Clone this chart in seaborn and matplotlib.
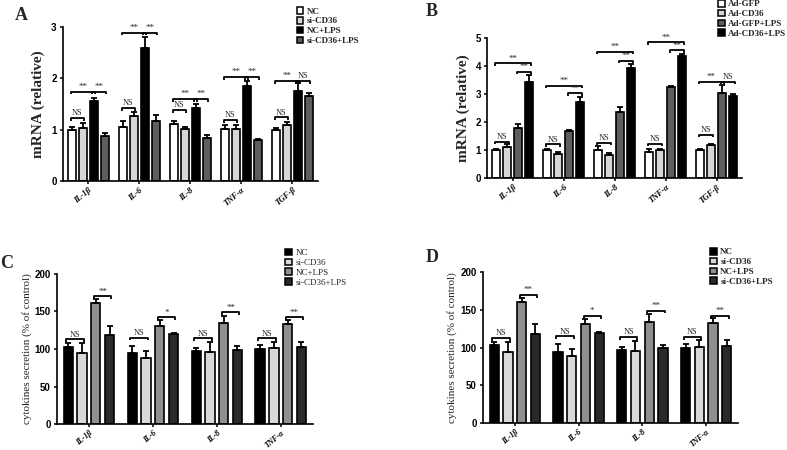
import matplotlib
matplotlib.use("Agg")
import matplotlib.pyplot as plt
import matplotlib.transforms as mtransforms
from matplotlib.patches import Patch
import pandas as pd
import seaborn as sns

# ---- data -------------------------------------------------------------
CYTO_AB = ["IL-1β", "IL-6", "IL-8", "TNF-α", "TGF-β"]
CYTO_CD = ["IL-1β", "IL-6", "IL-8", "TNF-α"]

GROUPS_A = ["NC", "si-CD36", "NC+LPS", "si-CD36+LPS"]
COLORS_A = ["#ffffff", "#d6d6d6", "#000000", "#5e5e5e"]
MEAN_A = [
    [1.00, 1.06, 1.11, 1.01, 1.00],
    [1.04, 1.27, 1.01, 1.01, 1.09],
    [1.55, 2.60, 1.43, 1.85, 1.76],
    [0.87, 1.17, 0.84, 0.79, 1.66],
]
ERR_A = [
    [0.06, 0.10, 0.06, 0.07, 0.03],
    [0.08, 0.07, 0.04, 0.07, 0.06],
    [0.07, 0.21, 0.06, 0.10, 0.14],
    [0.07, 0.12, 0.045, 0.03, 0.06],
]
# (cytokine index, first bar, last bar, height, label)
SIG_A = [
    (0, 0, 1, 1.23, "NS"), (0, 0, 2, 1.74, "**"), (0, 2, 3, 1.74, "**"),
    (1, 0, 1, 1.42, "NS"), (1, 0, 2, 2.89, "**"), (1, 2, 3, 2.89, "**"),
    (2, 0, 1, 1.38, "NS"), (2, 0, 2, 1.60, "**"), (2, 2, 3, 1.60, "**"),
    (3, 0, 1, 1.19, "NS"), (3, 0, 2, 2.03, "**"), (3, 2, 3, 2.03, "**"),
    (4, 0, 1, 1.24, "NS"), (4, 0, 2, 1.95, "**"), (4, 2, 3, 1.95, "NS"),
]

GROUPS_B = ["Ad-GFP", "Ad-CD36", "Ad-GFP+LPS", "Ad-CD36+LPS"]
COLORS_B = ["#ffffff", "#d6d6d6", "#5e5e5e", "#000000"]
MEAN_B = [
    [1.01, 1.01, 1.01, 0.92, 1.01],
    [1.10, 0.87, 0.83, 1.01, 1.17],
    [1.81, 1.67, 2.36, 3.25, 3.04],
    [3.43, 2.74, 3.93, 4.35, 2.92],
]
ERR_B = [
    [0.04, 0.03, 0.14, 0.12, 0.04],
    [0.13, 0.08, 0.06, 0.05, 0.06],
    [0.12, 0.04, 0.18, 0.05, 0.30],
    [0.24, 0.15, 0.14, 0.10, 0.08],
]
SIG_B = [
    (0, 0, 1, 1.31, "NS"), (0, 0, 3, 4.11, "**"), (0, 2, 3, 3.81, "**"),
    (1, 0, 1, 1.21, "NS"), (1, 0, 3, 3.30, "**"), (1, 2, 3, 3.04, "**"),
    (2, 0, 1, 1.27, "NS"), (2, 0, 3, 4.52, "**"), (2, 2, 3, 4.20, "**"),
    (3, 0, 1, 1.23, "NS"), (3, 0, 3, 4.86, "**"), (3, 2, 3, 4.58, "**"),
    (4, 0, 1, 1.55, "NS"), (4, 0, 2, 3.45, "**"), (4, 2, 3, 3.45, "NS"),
]

GROUPS_CD = ["NC", "si-CD36", "NC+LPS", "si-CD36+LPS"]
COLORS_CD = ["#000000", "#d9d9d9", "#8f8f8f", "#2a2a2a"]
MEAN_CD = [
    [103, 94.5, 96.7, 100],
    [94.5, 88.4, 95.4, 100.7],
    [160.4, 131, 134, 133],
    [118.7, 120, 99, 102],
]
ERR_CD = [
    [4.4, 9.7, 4.4, 5.0],
    [13, 9.2, 14, 9.0],
    [5.3, 7.5, 10, 5.7],
    [12.3, 1.0, 5.0, 7.5],
]
SIG_CD = [
    (0, 0, 1, 113, "NS"), (0, 2, 3, 170, "**"),
    (1, 0, 1, 115, "NS"), (1, 2, 3, 142, "*"),
    (2, 0, 1, 114, "NS"), (2, 2, 3, 149, "**"),
    (3, 0, 1, 114, "NS"), (3, 2, 3, 142, "**"),
]

SERIF = ["Liberation Serif", "DejaVu Serif"]
SANS = ["Liberation Sans", "DejaVu Sans"]


def long_table(cytos, groups, means):
    rows = []
    for g, vals in zip(groups, means):
        for c, v in zip(cytos, vals):
            rows.append({"cytokine": c, "group": g, "value": v})
    return pd.DataFrame(rows)


def draw_panel(ax, cytos, groups, colors, means, errs, sigs, ylim, yticks,
               ylabel, ylabel_bold, ylabel_size, ylabel_x, xlab_size):
    df = long_table(cytos, groups, means)
    sns.barplot(data=df, x="cytokine", y="value", hue="group",
                order=cytos, hue_order=groups, palette=colors,
                edgecolor="black", linewidth=1.2, width=0.86, gap=0.32,
                errorbar=None, legend=False, saturation=1, ax=ax)

    centers = []
    for cont, err in zip(ax.containers, errs):
        xs = [r.get_x() + r.get_width() / 2 for r in cont]
        hs = [r.get_height() for r in cont]
        centers.append(xs)
        ax.errorbar(xs, hs, yerr=[[0] * len(err), err], fmt="none",
                    ecolor="black", elinewidth=1.3, capsize=2.2,
                    capthick=1.3, zorder=1)
    hw = ax.containers[0][0].get_width() / 2

    span = ylim[1] - ylim[0]
    for ci, b1, b2, y, label in sigs:
        x1 = centers[b1][ci] - hw * 0.4
        x2 = centers[b2][ci] + hw * 0.4
        d = span * 0.018
        ax.plot([x1, x1, x2, x2], [y - d, y, y, y - d], color="black",
                lw=1.3, solid_capstyle="butt", clip_on=False)
        ax.text((x1 + x2) / 2, y + span * 0.004, label, ha="center",
                va="bottom", fontsize=6 if label == "NS" else 6.5,
                family=SERIF)

    ax.set_xlim(-0.5, len(cytos) - 0.5)
    ax.set_ylim(*ylim)
    ax.set_yticks(yticks)
    ax.set_yticklabels([str(t) for t in yticks], family=SANS,
                       fontweight="bold", fontsize=7)
    ax.set_xticks(range(len(cytos)))
    ax.set_xticklabels(cytos, rotation=40, ha="right",
                       rotation_mode="anchor", family=SERIF,
                       fontweight="bold", fontstyle="italic",
                       fontsize=xlab_size)
    shift = mtransforms.ScaledTranslation(4 / 100, 0, ax.figure.dpi_scale_trans)
    for lab in ax.get_xticklabels():
        lab.set_transform(lab.get_transform() + shift)
    ax.set_xlabel("")
    ax.set_ylabel(ylabel, family=SERIF,
                  fontweight="bold" if ylabel_bold else "normal",
                  fontsize=ylabel_size)
    ax.yaxis.set_label_coords(ylabel_x, 0.5)
    ax.tick_params(axis="both", width=1.1, length=2.5, pad=2, colors="black")
    ax.tick_params(axis="x", pad=1.2)
    for side in ["left", "bottom"]:
        ax.spines[side].set_linewidth(1.2)
        ax.spines[side].set_color("black")
    sns.despine(ax=ax)


def add_legend(fig, groups, colors, x, y, bold):
    handles = [Patch(facecolor=c, edgecolor="black", linewidth=1.1)
               for c in colors]
    fig.legend(handles, groups, loc="upper left", bbox_to_anchor=(x, y),
               bbox_transform=fig.transFigure, frameon=False,
               handlelength=0.75, handleheight=0.75, handletextpad=0.4,
               labelspacing=0.15, borderpad=0, borderaxespad=0,
               prop={"family": SERIF, "size": 6.5,
                     "weight": "bold" if bold else "normal"})


sns.set_style("ticks")
plt.rcParams["font.family"] = SERIF

fig = plt.figure(figsize=(7.87, 4.5), dpi=100)
ax_a = fig.add_axes([0.080, 0.598, 0.324, 0.342])
ax_b = fig.add_axes([0.619, 0.604, 0.324, 0.311])
ax_c = fig.add_axes([0.0724, 0.0570, 0.325, 0.335])
ax_d = fig.add_axes([0.6137, 0.0600, 0.324, 0.335])

draw_panel(ax_a, CYTO_AB, GROUPS_A, COLORS_A, MEAN_A, ERR_A, SIG_A,
           (0, 3), [0, 1, 2, 3], "mRNA (relative)", True, 11, -0.07, 6)
draw_panel(ax_b, CYTO_AB, GROUPS_B, COLORS_B, MEAN_B, ERR_B, SIG_B,
           (0, 5), [0, 1, 2, 3, 4, 5], "mRNA (relative)", True, 11, -0.068, 6)
draw_panel(ax_c, CYTO_CD, GROUPS_CD, COLORS_CD, MEAN_CD, ERR_CD, SIG_CD,
           (0, 200), [0, 50, 100, 150, 200],
           "cytokines secretion (% of control)", False, 8, -0.098, 5.6)
draw_panel(ax_d, CYTO_CD, GROUPS_CD, COLORS_CD, MEAN_CD, ERR_CD, SIG_CD,
           (0, 200), [0, 50, 100, 150, 200],
           "cytokines secretion (% of control)", False, 8, -0.103, 5.6)

add_legend(fig, GROUPS_A, COLORS_A, 0.377, 0.984, True)
add_legend(fig, GROUPS_B, COLORS_B, 0.912, 1.0, True)
add_legend(fig, GROUPS_CD, COLORS_CD, 0.362, 0.447, False)
add_legend(fig, GROUPS_CD, COLORS_CD, 0.902, 0.449, True)

for label, x, y in [("A", 21, 15), ("B", 432, 12), ("C", 7, 263), ("D", 432, 258)]:
    fig.text(x / 787, 1 - y / 450, label, ha="center", va="center",
             fontsize=13, fontweight="bold", family=SERIF)

fig.savefig("out.png", dpi=100)
